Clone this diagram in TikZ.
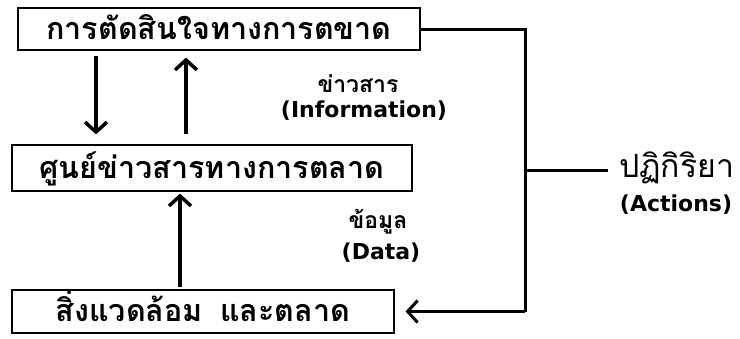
\documentclass[tikz,border=0pt]{standalone}
\usepackage{fontspec}
\newfontfamily\thaifont[Script=Thai]{Loma}
\newfontfamily\engfont{DejaVu Sans}
\usetikzlibrary{positioning, arrows.meta}

\begin{document}
\begin{tikzpicture}[x=1pt, y=-1pt,
  box/.style={draw, line width=1.2pt, inner sep=0pt, text height=25pt, text depth=5pt, font=\thaifont\bfseries\fontsize{30.5}{34}\selectfont},
  flow/.style={line width=3.5pt, -{Straight Barb[length=10pt, width=22pt]}},
  link/.style={line width=3pt},
  thlabel/.style={inner sep=0pt, font=\thaifont\bfseries\fontsize{23}{26}\selectfont},
  enlabel/.style={inner sep=0pt, font=\engfont\bfseries\fontsize{22}{26}\selectfont}]
\useasboundingbox (0,0) rectangle (740,338);
\node[box, minimum width=402pt, minimum height=42pt] (decide) at (219,29) {การตัดสินใจทางการตขาด};
\node[box, minimum width=400pt, minimum height=46pt] (centre) at (212,168) {ศูนย์ข่าวสารทางการตลาด};
\node[box, minimum width=382pt, minimum height=43pt] (env) at (203,311.5) {สิ่งแวดล้อม\hspace{7pt} และตลาด\hspace{22pt}};
\node[thlabel] (info) at (358,84) {ข่าวสาร};
\node[enlabel] (infoen) at (364,111) {(Information)};
\node[thlabel] (data) at (378,222) {ข้อมูล};
\node[enlabel] (dataen) at (381,253) {(Data)};
\node[anchor=west, inner sep=0pt, text height=20pt, text depth=5pt, font=\thaifont\fontsize{32}{36}\selectfont] (act) at (619,170) {ปฏิกิริยา};
\node[enlabel] (acten) at (676,205) {(Actions)};
\coordinate (dn) at (96,0);
\coordinate (up) at (186,0);
\coordinate (up2) at (180,0);
\coordinate (rt) at (525,0);
\draw[flow, shorten <=5pt, shorten >=10pt] (decide.south -| dn) -- (centre.north -| dn);
\draw[flow, shorten <=10pt, shorten >=7pt] (centre.north -| up) -- (decide.south -| up);
\draw[flow, shorten <=2pt, shorten >=2pt] (env.north -| up2) -- (centre.south -| up2);
\draw[link] (decide.east) -- (decide.east -| rt) -- (env.east -| rt);
\draw[flow, line width=3pt, shorten >=11pt] (env.east -| rt) -- (env.east);
\draw[link, shorten >=11pt] (act.west -| rt) -- (act.west);
\end{tikzpicture}
\end{document}
